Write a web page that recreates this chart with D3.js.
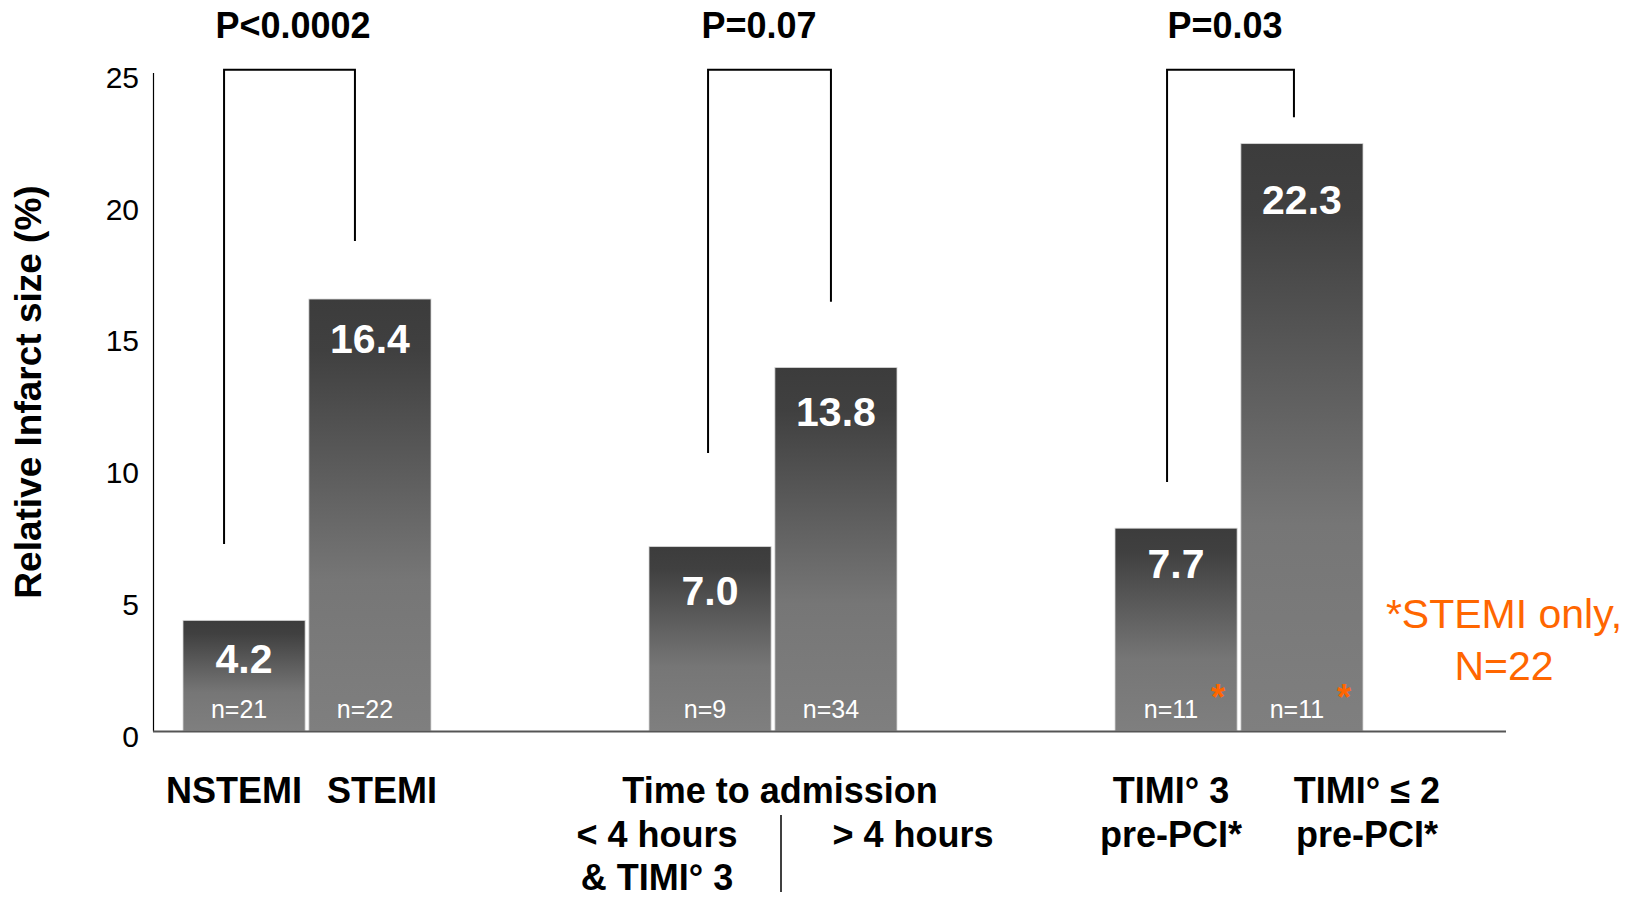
<!DOCTYPE html>
<html>
<head>
<meta charset="utf-8">
<script src="https://cdn.jsdelivr.net/npm/d3@7"></script>
<style>
  body { margin: 0; background: #fff; }
  svg { font-family: 'Liberation Sans', Arial, sans-serif; display: block; }
</style>
</head>
<body>
<div class="chartDiv"></div>
<script>
// values
const groups = ['nstemi', 'time', 'timi'];
const groupTitles = ['', 'Time to admission', ''];
const pValues = ['P<0.0002', 'P=0.07', 'P=0.03'];
const infarctSize = [[4.2, 16.4], [7.0, 13.8], [7.7, 22.3]];
const sampleSizes = [['n=21', 'n=22'], ['n=9', 'n=34'], ['n=11', 'n=11']];
const stemiOnly = [[false, false], [false, false], [true, true]];
const barLabels = [
    [['NSTEMI'], ['STEMI']],
    [['< 4 hours', '& TIMI° 3'], ['> 4 hours']],
    [['TIMI° 3', 'pre-PCI*'], ['TIMI° \u2264 2', 'pre-PCI*']]
];
// lower ends of the bracket legs (same units as the y axis)
const bracketEnds = [[7.1, 18.6], [10.55, 16.3], [9.45, 23.3]];
const bracketTop = 25.1;
const yTicks = [0, 5, 10, 15, 20, 25];
const footnote = ['*STEMI only,', 'N=22'];

const width = 1634;
const height = 899;
const orange = '#ff6600';

// small nudges so the texts sit where the slide had them
const bracketShift = [[-20, -15], [-2, -5], [-9, -8]];
const labelShift = [[-10, 12], [-53, 77], [-5, 65]];
const valueDy = [[53, 54], [58, 58], [50, 70]];

const svg = d3.select('.chartDiv')
    .append('svg')
    .attr('width', width)
    .attr('height', height);

const y = d3.scaleLinear().domain([0, 25]).range([731, 72.5]);
const x0 = d3.scaleBand().domain(groups).range([74, 1472]);
const x1 = d3.scaleBand()
    .domain([0, 1])
    .range([x0.bandwidth() / 2 - 124, x0.bandwidth() / 2 + 124])
    .paddingInner(0.03);

const barCenter = (g, i) => x0(groups[g]) + x1(i) + x1.bandwidth() / 2;

// bar gradient, dark on top
const grad = svg.append('defs').append('linearGradient')
    .attr('id', 'barGrad')
    .attr('x1', 0).attr('y1', 0).attr('x2', 0).attr('y2', 1);
grad.append('stop').attr('offset', '0').attr('stop-color', '#3c3c3c');
grad.append('stop').attr('offset', '0.12').attr('stop-color', '#404040');
grad.append('stop').attr('offset', '0.65').attr('stop-color', '#767676');
grad.append('stop').attr('offset', '1').attr('stop-color', '#7f7f7f');

// y axis
const yAxis = svg.append('g')
    .attr('transform', `translate(153,0)`)
    .call(d3.axisLeft(y).tickValues(yTicks).tickSize(0).tickSizeOuter(0).tickPadding(14));
yAxis.select('.domain').attr('stroke', '#000').attr('stroke-width', 1.2);
yAxis.selectAll('text')
    .attr('dy', '0.5em')
    .style('font-size', '30px')
    .style('font-family', "'Liberation Sans', Arial, sans-serif")
    .attr('fill', '#000');

svg.append('text')
    .attr('transform', 'rotate(-90)')
    .attr('x', -392)
    .attr('y', 41)
    .attr('text-anchor', 'middle')
    .style('font-size', '37px')
    .style('font-weight', 'bold')
    .text('Relative Infarct size (%)');

// bars
const barData = [];
groups.forEach((g, gi) => {
    infarctSize[gi].forEach((v, i) => {
        barData.push({g: gi, i: i, value: v, n: sampleSizes[gi][i], star: stemiOnly[gi][i], label: barLabels[gi][i]});
    });
});

const bars = svg.selectAll('.bar')
    .data(barData)
    .join('g')
    .attr('class', 'bar');

bars.append('rect')
    .attr('x', d => x0(groups[d.g]) + x1(d.i))
    .attr('y', d => y(d.value))
    .attr('width', x1.bandwidth())
    .attr('height', d => y(0) - y(d.value))
    .attr('fill', 'url(#barGrad)')
    .attr('stroke', '#d8d8d8')
    .attr('stroke-width', 0.8);

bars.append('text')
    .attr('x', d => barCenter(d.g, d.i))
    .attr('y', d => y(d.value) + valueDy[d.g][d.i])
    .attr('text-anchor', 'middle')
    .attr('fill', '#fff')
    .style('font-size', '41px')
    .style('font-weight', 'bold')
    .text(d => d.value.toFixed(1));

bars.append('text')
    .attr('x', d => barCenter(d.g, d.i) - 5)
    .attr('y', 718)
    .attr('text-anchor', 'middle')
    .attr('fill', '#fff')
    .style('font-size', '25px')
    .text(d => d.n);

bars.filter(d => d.star)
    .append('text')
    .attr('x', d => x0(groups[d.g]) + x1(d.i) + x1.bandwidth() - 19)
    .attr('y', 710)
    .attr('text-anchor', 'middle')
    .attr('fill', orange)
    .style('font-size', '36px')
    .style('font-weight', 'bold')
    .text('*');

// x axis line
svg.append('line')
    .attr('x1', 153).attr('x2', 1506)
    .attr('y1', y(0) + 0.5).attr('y2', y(0) + 0.5)
    .attr('stroke', '#555')
    .attr('stroke-width', 2);

// category labels below the axis
const rowY = i => 803 + i * 43.5;
bars.each(function(d) {
    const startRow = groupTitles[d.g] ? 1 : 0;
    d.label.forEach((line, li) => {
        d3.select(this).append('text')
            .attr('x', barCenter(d.g, d.i) + labelShift[d.g][d.i])
            .attr('y', rowY(startRow + li))
            .attr('text-anchor', 'middle')
            .style('font-size', '36px')
            .style('font-weight', 'bold')
            .text(line);
    });
});

groups.forEach((g, gi) => {
    if (!groupTitles[gi]) return;
    const cx = x0(g) + x0.bandwidth() / 2;
    svg.append('text')
        .attr('x', cx + 7)
        .attr('y', rowY(0))
        .attr('text-anchor', 'middle')
        .style('font-size', '36px')
        .style('font-weight', 'bold')
        .text(groupTitles[gi]);
    svg.append('line')
        .attr('x1', cx + 8).attr('x2', cx + 8)
        .attr('y1', 815).attr('y2', 892)
        .attr('stroke', '#000')
        .attr('stroke-width', 1.5);
});

// significance brackets
groups.forEach((g, gi) => {
    const xa = barCenter(gi, 0) + bracketShift[gi][0];
    const xb = barCenter(gi, 1) + bracketShift[gi][1];
    svg.append('path')
        .attr('d', `M${xa},${y(bracketEnds[gi][0])}V${y(bracketTop)}H${xb}V${y(bracketEnds[gi][1])}`)
        .attr('fill', 'none')
        .attr('stroke', '#000')
        .attr('stroke-width', 2);

    svg.append('text')
        .attr('x', x0(g) + x0.bandwidth() / 2 - 14)
        .attr('y', 38)
        .attr('text-anchor', 'middle')
        .style('font-size', '36px')
        .style('font-weight', 'bold')
        .text(pValues[gi]);
});

// footnote
footnote.forEach((line, i) => {
    svg.append('text')
        .attr('x', x0.range()[1] + 32)
        .attr('y', 628 + i * 52)
        .attr('text-anchor', 'middle')
        .attr('fill', orange)
        .style('font-size', '41px')
        .text(line);
});
</script>
</body>
</html>
